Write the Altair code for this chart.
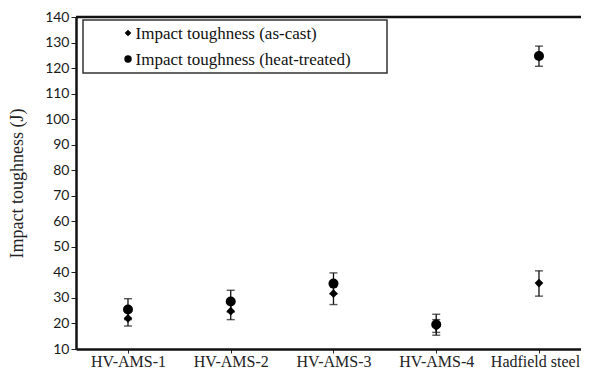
import altair as alt
import pandas as pd

categories = ["HV-AMS-1", "HV-AMS-2", "HV-AMS-3", "HV-AMS-4", "Hadfield steel"]
series_names = ["Impact toughness (as-cast)", "Impact toughness (heat-treated)"]

as_cast = [22.0, 24.8, 31.7, 18.8, 35.8]
as_cast_lo = [19.0, 21.5, 27.4, 15.4, 30.7]
as_cast_hi = [25.0, 28.0, 36.0, 21.5, 40.6]

heat = [25.5, 28.6, 35.6, 19.6, 124.7]
heat_lo = [21.5, 24.5, 31.5, 16.5, 120.7]
heat_hi = [29.7, 33.0, 39.8, 23.6, 128.6]

y_ticks = list(range(10, 150, 10))

rows = []
for i, c in enumerate(categories):
    rows.append({"cat": c, "series": series_names[0], "v": as_cast[i], "lo": as_cast_lo[i], "hi": as_cast_hi[i]})
for i, c in enumerate(categories):
    rows.append({"cat": c, "series": series_names[1], "v": heat[i], "lo": heat_lo[i], "hi": heat_hi[i]})
df = pd.DataFrame(rows)

W, H = 505, 332
SERIF = "Liberation Serif, Times New Roman, serif"

x_axis = alt.Axis(title=None, labelAngle=0, labelFont=SERIF, labelFontSize=16,
                  labelColor="#222", tickSize=4, tickColor="#222", labelPadding=0,
                  labelOffset={"condition": {"test": "datum.value == 'Hadfield steel'", "value": -4},
                               "value": 0},
                  domainWidth=2.5, domainColor="#111")
x_enc = alt.X("cat:N", sort=categories,
              scale=alt.Scale(type="point", padding=0.4575, align=0.553),
              axis=x_axis)
y_scale = alt.Scale(domain=[10, 140], nice=False)
y_axis = alt.Axis(title="Impact toughness (J)", values=y_ticks, grid=False, labelOverlap=False,
                  titleFont=SERIF, titleFontSize=18, titleFontWeight="normal", titleColor="#222",
                  titlePadding=18,
                  labelFont="Lato", labelFontSize=14, labelColor="#1a1a1a",
                  tickSize=5, tickColor="#222", labelPadding=2,
                  domainWidth=2.5, domainColor="#111")

base = alt.Chart(df)

bars = base.mark_rule(color="#111", strokeWidth=1.3).encode(
    x=x_enc, y=alt.Y("lo:Q", scale=y_scale, axis=y_axis), y2="hi:Q")
cap_lo = base.mark_tick(color="#111", size=8, thickness=1.4).encode(
    x=x_enc, y=alt.Y("lo:Q", scale=y_scale, axis=y_axis))
cap_hi = base.mark_tick(color="#111", size=8, thickness=1.4).encode(
    x=x_enc, y=alt.Y("hi:Q", scale=y_scale, axis=y_axis))
pts = base.mark_point(filled=True, color="#000", opacity=1).encode(
    x=x_enc, y=alt.Y("v:Q", scale=y_scale, axis=y_axis),
    shape=alt.Shape("series:N", scale=alt.Scale(domain=series_names, range=["diamond", "circle"]), legend=None),
    size=alt.Size("series:N", scale=alt.Scale(domain=series_names, range=[75, 100]), legend=None))

one = pd.DataFrame({"a": [0]})
top_border = alt.Chart(one).mark_rule(color="#111", strokeWidth=2.5).encode(
    x=alt.value(0), x2=alt.value(W), y=alt.value(0))

legend_box = alt.Chart(one).mark_rect(fill="white", stroke="#333", strokeWidth=1.5).encode(
    x=alt.value(7), x2=alt.value(311), y=alt.value(3), y2=alt.value(56))

legend_layers = []
row_y = [16, 42]
shapes = ["diamond", "circle"]
sizes = [45, 55]
for i, name in enumerate(series_names):
    d = pd.DataFrame({"series": [name]})
    legend_layers.append(alt.Chart(d).mark_point(filled=True, color="#000", opacity=1,
                                                 shape=shapes[i], size=sizes[i]).encode(
        x=alt.value(52), y=alt.value(row_y[i])))
    legend_layers.append(alt.Chart(d).mark_text(align="left", baseline="middle", font=SERIF,
                                                fontSize=17, color="#111").encode(
        x=alt.value(59.5), y=alt.value(row_y[i] + 1), text="series:N"))

chart = alt.layer(bars, cap_lo, cap_hi, pts, top_border, legend_box, *legend_layers).properties(
    width=W, height=H,
    autosize=alt.AutoSizeParams(type="none"),
    padding={"left": 68, "top": 9, "right": 0, "bottom": 22}
).configure(background="white").configure_view(strokeWidth=0, stroke=None
).configure_axis(labelOverlap=False)

chart.save("out.html", embed_options={"renderer": "svg", "actions": False})
